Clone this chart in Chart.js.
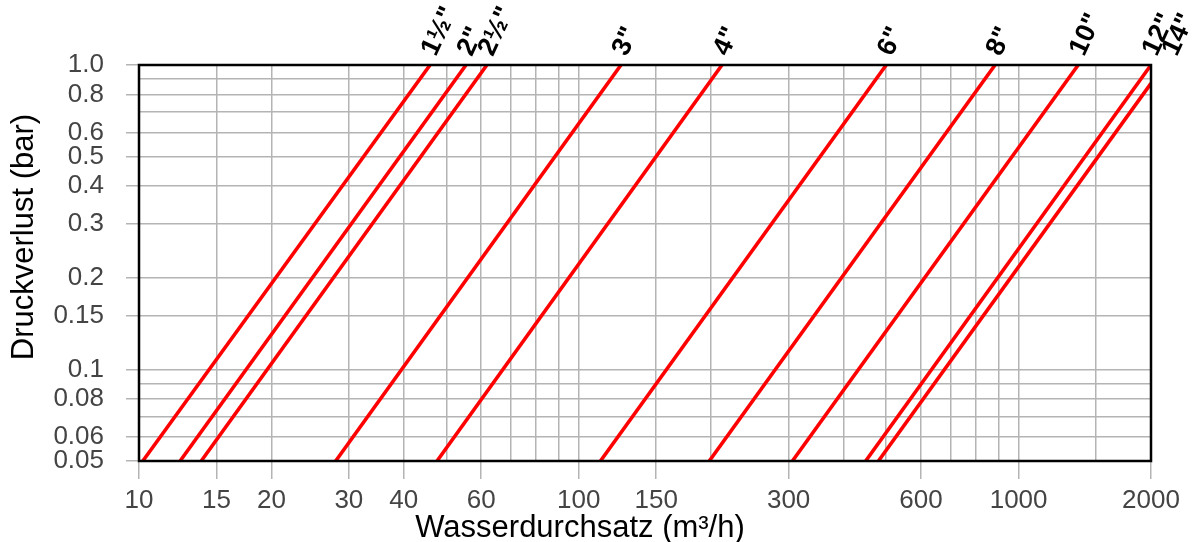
<!DOCTYPE html>
<html>
<head>
<meta charset="utf-8">
<style>
  html, body { margin: 0; padding: 0; background: #fff; }
  #wrap { width: 1197px; height: 542px; }
</style>
<script src="https://cdn.jsdelivr.net/npm/chart.js@4/dist/chart.umd.min.js"></script>
</head>
<body>
<div id="wrap"><canvas id="c" width="1197" height="542"></canvas></div>
<script>
// ---- Data ----
const sizeLabels = ['1½"', '2"', '2½"', '3"', '4"', '6"', '8"', '10"', '12"', '14"'];
// flow (m³/h) where each line starts at 0.05 bar
const flowStart = [10.2, 12.4, 13.85, 28.0, 47.6, 112, 198, 306, 449, 480];
const pressStart = [0.05, 0.05, 0.05, 0.05, 0.05, 0.05, 0.05, 0.05, 0.05, 0.05];
// flow (m³/h) and pressure (bar) where each line ends
const flowEnd = [45.9, 55.4, 61.8, 124.7, 211.6, 500, 884, 1366, 2000, 2000];
const pressEnd = [1.0, 1.0, 1.0, 1.0, 1.0, 1.0, 1.0, 1.0, 1.0, 0.87];

// axis grid values and labelled ticks
const xGridValues = [10, 15, 20, 30, 40, 50, 60, 70, 80, 90, 100, 150, 200, 300, 400, 500, 600, 700, 800, 900, 1000, 1500, 2000];
const xTickLabels = [10, 15, 20, 30, 40, 60, 100, 150, 300, 600, 1000, 2000];
const yGridValues = [0.05, 0.06, 0.07, 0.08, 0.09, 0.1, 0.15, 0.2, 0.3, 0.4, 0.5, 0.6, 0.7, 0.8, 0.9, 1.0];
const yTickLabels = [0.05, 0.06, 0.08, 0.1, 0.15, 0.2, 0.3, 0.4, 0.5, 0.6, 0.8, 1.0];

const xTitle = 'Wasserdurchsatz (m³/h)';
const yTitle = 'Druckverlust (bar)';

// ---- Chart ----
const datasets = sizeLabels.map((lab, i) => ({
  label: lab,
  data: [{x: flowStart[i], y: pressStart[i]}, {x: flowEnd[i], y: pressEnd[i]}],
  borderColor: '#ff0000',
  backgroundColor: '#ff0000',
  borderWidth: 3.6,
  pointRadius: 0,
  fill: false,
  tension: 0
}));

const hasLabel = (arr, v) => arr.some(a => Math.abs(a - v) < 1e-9);
const FAMILY = '"Liberation Sans", Arial, sans-serif';
const tickFont = {family: FAMILY, size: 26};

const framePlugin = {
  id: 'frame',
  afterDatasetsDraw(chart) {
    const {ctx, chartArea: a, scales} = chart;
    ctx.save();
    ctx.strokeStyle = '#000';
    ctx.lineWidth = 2.5;
    ctx.strokeRect(a.left, a.top, a.right - a.left, a.bottom - a.top);
    ctx.restore();
    // size labels at line ends
    ctx.save();
    ctx.fillStyle = '#000';
    ctx.font = 'bold 27px ' + FAMILY;
    ctx.textAlign = 'left';
    ctx.textBaseline = 'middle';
    sizeLabels.forEach((lab, i) => {
      let x = scales.x.getPixelForValue(flowEnd[i]);
      let y = scales.y.getPixelForValue(pressEnd[i]);
      if (pressEnd[i] < 1) { x += 20; y = a.top; }
      ctx.save();
      ctx.translate(x - 1, y - 11);
      ctx.rotate(-65 * Math.PI / 180);
      ctx.fillText(lab, 0, 0);
      ctx.restore();
    });
    ctx.restore();
    // axis titles
    ctx.save();
    ctx.fillStyle = '#000';
    ctx.font = '31px ' + FAMILY;
    ctx.textAlign = 'center';
    ctx.textBaseline = 'alphabetic';
    ctx.fillText(xTitle, 580, 537);
    ctx.translate(33, 237);
    ctx.rotate(-Math.PI / 2);
    ctx.fillText(yTitle, 0, 0);
    ctx.restore();
  }
};

new Chart(document.getElementById('c'), {
  type: 'line',
  data: {datasets},
  options: {
    responsive: false,
    animation: false,
    layout: {padding: {top: 65, right: 46, left: 0, bottom: 0}},
    plugins: {legend: {display: false}, tooltip: {enabled: false}},
    scales: {
      x: {
        type: 'logarithmic',
        min: 10, max: 2000,
        afterBuildTicks: s => { s.ticks = xGridValues.map(v => ({value: v})); },
        afterFit: s => { s.height = 81; },
        ticks: {
          autoSkip: false, maxRotation: 0, minRotation: 0,
          color: '#444', font: tickFont, padding: 6,
          callback: v => hasLabel(xTickLabels, v) ? String(v) : ''
        },
        grid: {
          color: '#b4b4b4', lineWidth: 1.5,
          tickLength: 18,
          tickColor: c => hasLabel(xTickLabels, c.tick.value) ? '#b4b4b4' : 'rgba(0,0,0,0)',
          tickWidth: 1.5
        },
        border: {display: false},
        title: {display: false}
      },
      y: {
        type: 'logarithmic',
        min: 0.05, max: 1.0,
        afterBuildTicks: s => { s.ticks = yGridValues.map(v => ({value: v})); },
        afterFit: s => { s.width = 139; },
        ticks: {
          autoSkip: false,
          color: '#444', font: tickFont, padding: 22,
          callback: v => hasLabel(yTickLabels, v) ? (v === 1 ? '1.0' : String(v)) : ''
        },
        grid: {
          color: '#b4b4b4', lineWidth: 1.5,
          tickLength: 13,
          tickColor: c => hasLabel(yTickLabels, c.tick.value) ? '#b4b4b4' : 'rgba(0,0,0,0)',
          tickWidth: 1.5
        },
        border: {display: false},
        title: {display: false}
      }
    }
  },
  plugins: [framePlugin]
});
</script>
</body>
</html>
